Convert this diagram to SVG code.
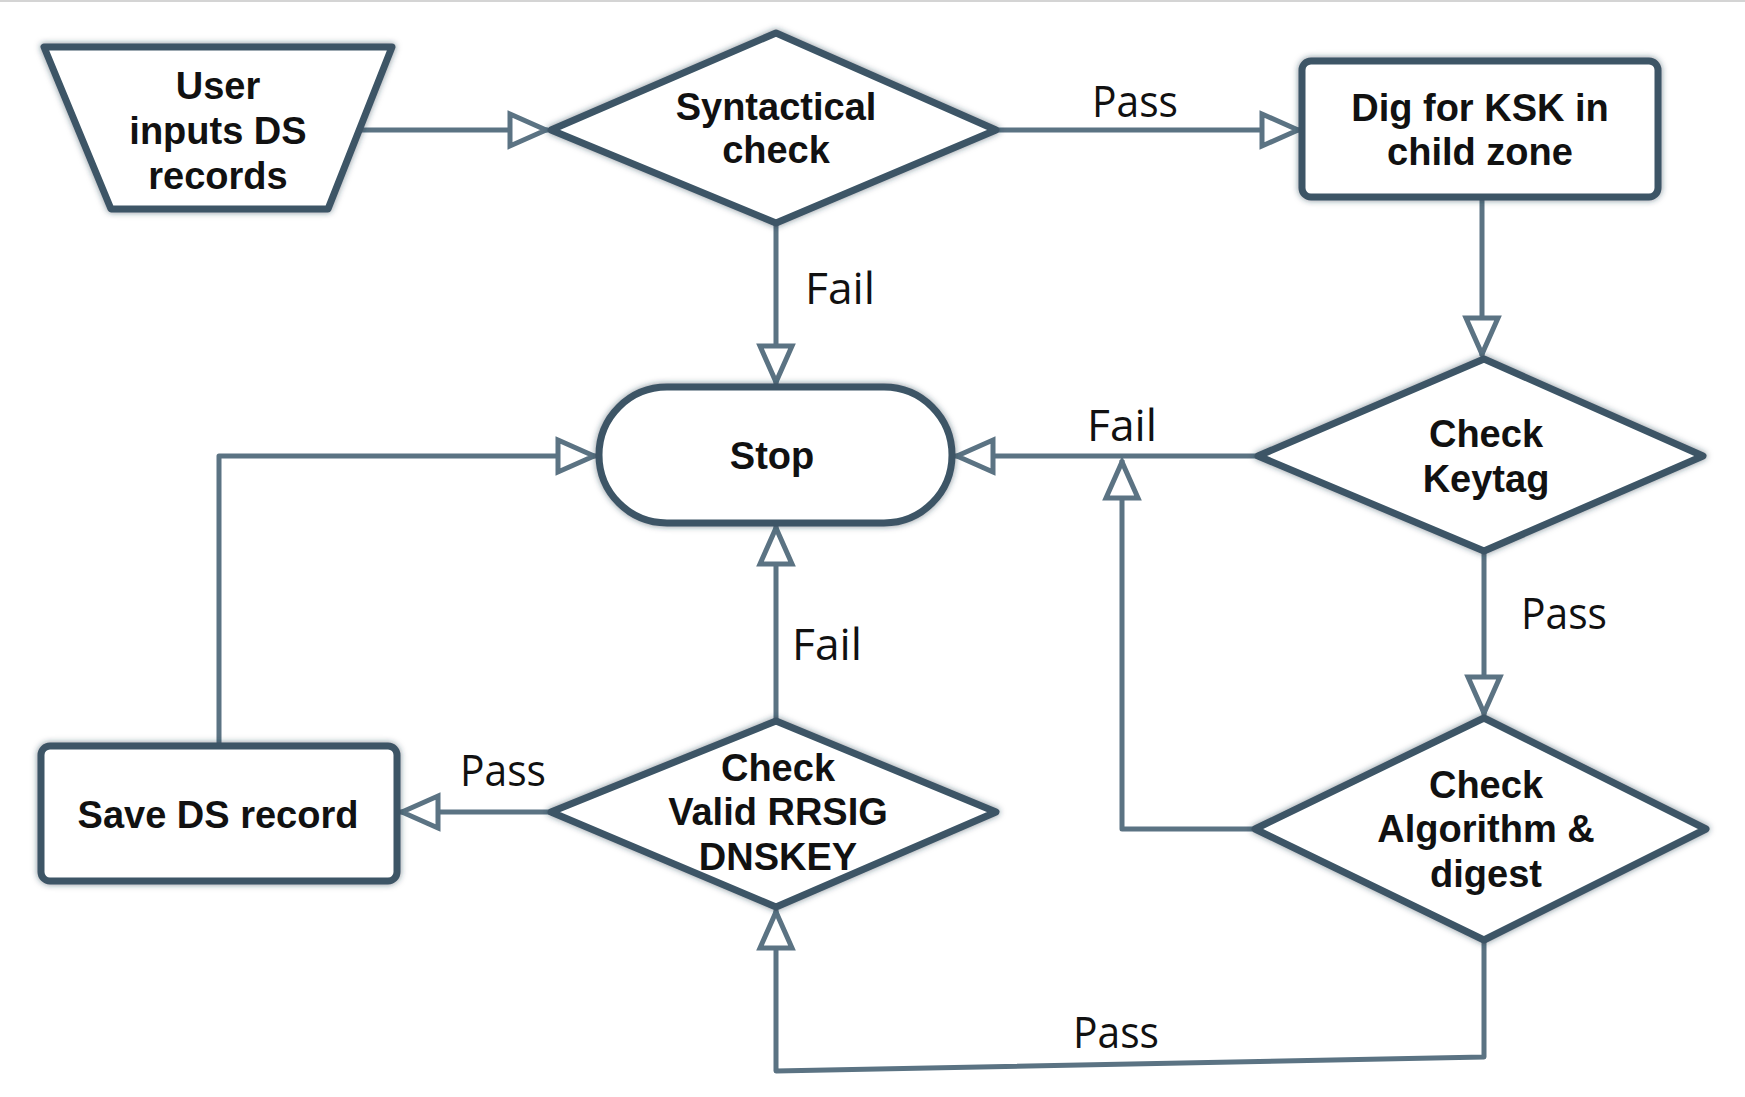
<svg xmlns="http://www.w3.org/2000/svg" width="1745" height="1097" viewBox="0 0 1745 1097">
<style>
.node{fill:#fff;stroke:#3c5566;stroke-width:7;stroke-linejoin:round;filter:url(#glow)}
.t{font-family:"Liberation Sans",Arial,sans-serif;font-weight:bold;font-size:38px;fill:#111;text-anchor:middle}
.lbl{font-family:"Open Sans","Noto Sans",sans-serif;font-size:43px;fill:#111;text-anchor:middle}
.c{fill:none;stroke:#5b7383;stroke-width:5;stroke-linejoin:round;marker-end:url(#ah)}
</style>
<defs>
<filter id="glow" x="-10%" y="-10%" width="120%" height="120%">
<feGaussianBlur in="SourceAlpha" stdDeviation="3" result="b"/>
<feFlood flood-color="#1e3444" flood-opacity="0.55"/>
<feComposite in2="b" operator="in" result="s"/>
<feMerge><feMergeNode in="s"/><feMergeNode in="SourceGraphic"/></feMerge>
</filter>
<marker id="ah" markerUnits="userSpaceOnUse" markerWidth="50" markerHeight="44" refX="40" refY="18" orient="auto" viewBox="-4 -4 50 44">
<path d="M2,2 L38,18 L2,34 Z" fill="#fff" stroke="#5b7383" stroke-width="5" stroke-linejoin="miter"/>
</marker>
</defs>
<rect x="0" y="0" width="1745" height="2" fill="#d4d4d4"/>
<g id="connectors">
<path class="c" d="M359,130 H548"/>
<path class="c" d="M996,130 H1300"/>
<path class="c" d="M1482,197 V356"/>
<path class="c" d="M776,223 V384"/>
<path class="c" d="M1258,456 H955"/>
<path class="c" d="M1255,829 H1122 V460"/>
<path class="c" d="M1484,551 V715"/>
<path class="c" d="M1484,940 V1057 L776,1071 V910"/>
<path class="c" d="M776,721 V526"/>
<path class="c" d="M551,812 H400"/>
<path class="c" d="M219,746 V456 H596"/>
</g>
<g id="labels">
<text class="lbl" x="1135" y="117" textLength="86" lengthAdjust="spacingAndGlyphs">Pass</text>
<text class="lbl" x="840" y="304" textLength="70" lengthAdjust="spacingAndGlyphs">Fail</text>
<text class="lbl" x="1122" y="441" textLength="70" lengthAdjust="spacingAndGlyphs">Fail</text>
<text class="lbl" x="1564" y="629" textLength="86" lengthAdjust="spacingAndGlyphs">Pass</text>
<text class="lbl" x="827" y="660" textLength="70" lengthAdjust="spacingAndGlyphs">Fail</text>
<text class="lbl" x="503" y="786" textLength="86" lengthAdjust="spacingAndGlyphs">Pass</text>
<text class="lbl" x="1116" y="1048" textLength="86" lengthAdjust="spacingAndGlyphs">Pass</text>
</g>
<g id="input">
<path class="node" d="M44,47 H392 L328,209 H111 Z"/>
<text class="t" x="218" y="99">User</text>
<text class="t" x="218" y="144">inputs DS</text>
<text class="t" x="218" y="189">records</text>
</g>
<g id="syntactical">
<path class="node" d="M551,130 L776,33 L996,130 L776,223 Z"/>
<text class="t" x="776" y="120">Syntactical</text>
<text class="t" x="776" y="163">check</text>
</g>
<g id="dig">
<rect class="node" x="1302" y="61" width="356" height="136" rx="9"/>
<text class="t" x="1480" y="121">Dig for KSK in</text>
<text class="t" x="1480" y="165">child zone</text>
</g>
<g id="stop">
<rect class="node" x="599" y="387" width="353" height="136" rx="68"/>
<text class="t" x="772" y="469">Stop</text>
</g>
<g id="keytag">
<path class="node" d="M1258,456 L1484,359 L1703,456 L1484,551 Z"/>
<text class="t" x="1486" y="447">Check</text>
<text class="t" x="1486" y="492">Keytag</text>
</g>
<g id="algorithm">
<path class="node" d="M1255,829 L1484,718 L1706,829 L1484,940 Z"/>
<text class="t" x="1486" y="798">Check</text>
<text class="t" x="1486" y="842">Algorithm &amp;</text>
<text class="t" x="1486" y="887">digest</text>
</g>
<g id="rrsig">
<path class="node" d="M551,812 L776,721 L996,812 L776,907 Z"/>
<text class="t" x="778" y="781">Check</text>
<text class="t" x="778" y="825">Valid RRSIG</text>
<text class="t" x="778" y="870">DNSKEY</text>
</g>
<g id="save">
<rect class="node" x="41" y="746" width="356" height="135" rx="9"/>
<text class="t" x="218" y="828">Save DS record</text>
</g>
</svg>
